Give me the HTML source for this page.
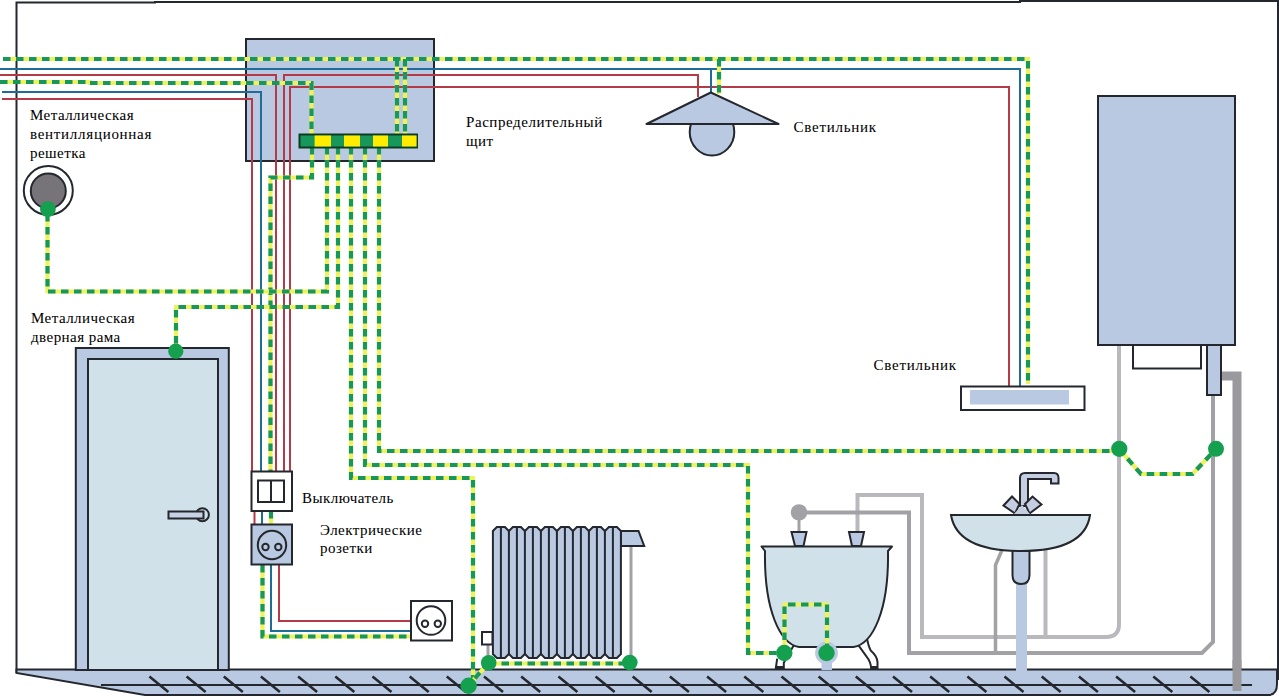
<!DOCTYPE html>
<html><head><meta charset="utf-8"><title>Grounding scheme</title>
<style>
html,body{margin:0;padding:0;background:#fff;overflow:hidden;width:1279px;height:697px;}
svg{display:block;}
text{font-family:"Liberation Serif",serif;font-size:15px;letter-spacing:0.45px;fill:#000;stroke:#000;stroke-width:0.05px;}
</style></head><body>
<svg width="1279" height="697" viewBox="0 0 1279 697">
<rect width="1279" height="697" fill="#fff"/>
<polyline points="16.5,673 16.5,2.5 155,2.5 155,2 1020,2 1020,1 1278,1 1278,680" fill="none" stroke="#24272d" stroke-width="2"/>
<path d="M1119,345 V624 Q1119,637 1106,637 H922 V495 H857.5 V532" fill="none" stroke="#b9b9bd" stroke-width="4"/>
<path d="M1045.5,548 V637" fill="none" stroke="#b9b9bd" stroke-width="4"/>
<path d="M1213,395 V642 L1202,653 H909 V512.5 H800" fill="none" stroke="#a2a2a6" stroke-width="4"/>
<path d="M1002,550 L995.5,565 V654" fill="none" stroke="#a2a2a6" stroke-width="3.5"/>
<path d="M1221,376 H1237 V691" fill="none" stroke="#9a9a9e" stroke-width="9"/>
<path d="M16.5,669.5 H1277 V684 Q1277,695 1268,695 H145 L16.5,673 Z" fill="#b9c9e1" stroke="#24272d" stroke-width="2"/>
<line x1="101" y1="685" x2="1252" y2="685" stroke="#24272d" stroke-width="2"/>
<line x1="149.4" y1="676.5" x2="168.4" y2="692" stroke="#24272d" stroke-width="2.5"/>
<line x1="186.6" y1="676.5" x2="205.6" y2="692" stroke="#24272d" stroke-width="2.5"/>
<line x1="223.8" y1="676.5" x2="242.8" y2="692" stroke="#24272d" stroke-width="2.5"/>
<line x1="260.9" y1="676.5" x2="279.9" y2="692" stroke="#24272d" stroke-width="2.5"/>
<line x1="298.1" y1="676.5" x2="317.1" y2="692" stroke="#24272d" stroke-width="2.5"/>
<line x1="335.3" y1="676.5" x2="354.3" y2="692" stroke="#24272d" stroke-width="2.5"/>
<line x1="372.5" y1="676.5" x2="391.5" y2="692" stroke="#24272d" stroke-width="2.5"/>
<line x1="409.7" y1="676.5" x2="428.7" y2="692" stroke="#24272d" stroke-width="2.5"/>
<line x1="446.8" y1="676.5" x2="465.8" y2="692" stroke="#24272d" stroke-width="2.5"/>
<line x1="484.0" y1="676.5" x2="503.0" y2="692" stroke="#24272d" stroke-width="2.5"/>
<line x1="521.2" y1="676.5" x2="540.2" y2="692" stroke="#24272d" stroke-width="2.5"/>
<line x1="558.4" y1="676.5" x2="577.4" y2="692" stroke="#24272d" stroke-width="2.5"/>
<line x1="595.6" y1="676.5" x2="614.6" y2="692" stroke="#24272d" stroke-width="2.5"/>
<line x1="632.7" y1="676.5" x2="651.7" y2="692" stroke="#24272d" stroke-width="2.5"/>
<line x1="669.9" y1="676.5" x2="688.9" y2="692" stroke="#24272d" stroke-width="2.5"/>
<line x1="707.1" y1="676.5" x2="726.1" y2="692" stroke="#24272d" stroke-width="2.5"/>
<line x1="744.3" y1="676.5" x2="763.3" y2="692" stroke="#24272d" stroke-width="2.5"/>
<line x1="781.5" y1="676.5" x2="800.5" y2="692" stroke="#24272d" stroke-width="2.5"/>
<line x1="818.6" y1="676.5" x2="837.6" y2="692" stroke="#24272d" stroke-width="2.5"/>
<line x1="855.8" y1="676.5" x2="874.8" y2="692" stroke="#24272d" stroke-width="2.5"/>
<line x1="893.0" y1="676.5" x2="912.0" y2="692" stroke="#24272d" stroke-width="2.5"/>
<line x1="930.2" y1="676.5" x2="949.2" y2="692" stroke="#24272d" stroke-width="2.5"/>
<line x1="967.4" y1="676.5" x2="986.4" y2="692" stroke="#24272d" stroke-width="2.5"/>
<line x1="1004.5" y1="676.5" x2="1023.5" y2="692" stroke="#24272d" stroke-width="2.5"/>
<line x1="1041.7" y1="676.5" x2="1060.7" y2="692" stroke="#24272d" stroke-width="2.5"/>
<line x1="1078.9" y1="676.5" x2="1097.9" y2="692" stroke="#24272d" stroke-width="2.5"/>
<line x1="1116.1" y1="676.5" x2="1135.1" y2="692" stroke="#24272d" stroke-width="2.5"/>
<line x1="1153.3" y1="676.5" x2="1172.3" y2="692" stroke="#24272d" stroke-width="2.5"/>
<line x1="1190.4" y1="676.5" x2="1209.4" y2="692" stroke="#24272d" stroke-width="2.5"/>
<path d="M1237,660 V691" fill="none" stroke="#9a9a9e" stroke-width="9"/>
<rect x="246" y="39" width="188" height="122" fill="#b9c9e1" stroke="#24272d" stroke-width="2"/>
<polyline points="0,69 1020,69 1020,386" fill="none" stroke="#1d6d98" stroke-width="2" stroke-linejoin="miter"/>
<polyline points="0,75 276,75 276,471" fill="none" stroke="#b33a46" stroke-width="2" stroke-linejoin="miter"/>
<polyline points="284,471 284,75 698,75 698,97" fill="none" stroke="#b33a46" stroke-width="2" stroke-linejoin="miter"/>
<polyline points="290,471 290,87 1009,87 1009,386" fill="none" stroke="#b33a46" stroke-width="2" stroke-linejoin="miter"/>
<polyline points="2,92 261,92 261,471" fill="none" stroke="#1d6d98" stroke-width="2" stroke-linejoin="miter"/>
<polyline points="2,99 252,99 252,471" fill="none" stroke="#b33a46" stroke-width="2" stroke-linejoin="miter"/>
<polyline points="711,69 711,92" fill="none" stroke="#1d6d98" stroke-width="2" stroke-linejoin="miter"/>
<polyline points="254.5,511 254.5,524" fill="none" stroke="#b33a46" stroke-width="2" stroke-linejoin="miter"/>
<polyline points="262,511 262,524" fill="none" stroke="#1d6d98" stroke-width="2" stroke-linejoin="miter"/>
<polyline points="279,565 279,621 411,621" fill="none" stroke="#b33a46" stroke-width="2" stroke-linejoin="miter"/>
<polyline points="271,565 271,631 411,631" fill="none" stroke="#1d6d98" stroke-width="2" stroke-linejoin="miter"/>
<polyline points="3,59 1028,59 1028,384" fill="none" stroke="#eef25c" stroke-width="4.2" stroke-linejoin="miter"/>
<polyline points="3,59 1028,59 1028,384" fill="none" stroke="#17985a" stroke-width="4.2" stroke-dasharray="7.5 5.5" stroke-dashoffset="0" stroke-linejoin="miter"/>
<polyline points="0,82 90,82 90,83 311.5,83 311.5,134" fill="none" stroke="#eef25c" stroke-width="4.2" stroke-linejoin="miter"/>
<polyline points="0,82 90,82 90,83 311.5,83 311.5,134" fill="none" stroke="#17985a" stroke-width="4.2" stroke-dasharray="7.5 5.5" stroke-dashoffset="0" stroke-linejoin="miter"/>
<polyline points="719,59 719,94" fill="none" stroke="#eef25c" stroke-width="4.2" stroke-linejoin="miter"/>
<polyline points="719,59 719,94" fill="none" stroke="#17985a" stroke-width="4.2" stroke-dasharray="7.5 5.5" stroke-dashoffset="0" stroke-linejoin="miter"/>
<polyline points="397,59 397,134" fill="none" stroke="#eef25c" stroke-width="4.2" stroke-linejoin="miter"/>
<polyline points="397,59 397,134" fill="none" stroke="#17985a" stroke-width="4.2" stroke-dasharray="7.5 5.5" stroke-dashoffset="0" stroke-linejoin="miter"/>
<polyline points="405,59 405,134" fill="none" stroke="#eef25c" stroke-width="4.2" stroke-linejoin="miter"/>
<polyline points="405,59 405,134" fill="none" stroke="#17985a" stroke-width="4.2" stroke-dasharray="7.5 5.5" stroke-dashoffset="0" stroke-linejoin="miter"/>
<polyline points="312,147 312,177.5 270.5,177.5 270.5,471" fill="none" stroke="#eef25c" stroke-width="4.2" stroke-linejoin="miter"/>
<polyline points="312,147 312,177.5 270.5,177.5 270.5,471" fill="none" stroke="#17985a" stroke-width="4.2" stroke-dasharray="7.5 5.5" stroke-dashoffset="0" stroke-linejoin="miter"/>
<polyline points="327,147 327,291.5 47.5,291.5 47.5,209" fill="none" stroke="#eef25c" stroke-width="4.2" stroke-linejoin="miter"/>
<polyline points="327,147 327,291.5 47.5,291.5 47.5,209" fill="none" stroke="#17985a" stroke-width="4.2" stroke-dasharray="7.5 5.5" stroke-dashoffset="0" stroke-linejoin="miter"/>
<polyline points="338,147 338,307 176,307 176,351" fill="none" stroke="#eef25c" stroke-width="4.2" stroke-linejoin="miter"/>
<polyline points="338,147 338,307 176,307 176,351" fill="none" stroke="#17985a" stroke-width="4.2" stroke-dasharray="7.5 5.5" stroke-dashoffset="0" stroke-linejoin="miter"/>
<polyline points="351,147 351,478 473,478 473,680" fill="none" stroke="#eef25c" stroke-width="4.2" stroke-linejoin="miter"/>
<polyline points="351,147 351,478 473,478 473,680" fill="none" stroke="#17985a" stroke-width="4.2" stroke-dasharray="7.5 5.5" stroke-dashoffset="0" stroke-linejoin="miter"/>
<polyline points="365,147 365,465 748,465 748,653 784,653" fill="none" stroke="#eef25c" stroke-width="4.2" stroke-linejoin="miter"/>
<polyline points="365,147 365,465 748,465 748,653 784,653" fill="none" stroke="#17985a" stroke-width="4.2" stroke-dasharray="7.5 5.5" stroke-dashoffset="0" stroke-linejoin="miter"/>
<polyline points="379,147 379,451 1119,451" fill="none" stroke="#eef25c" stroke-width="4.2" stroke-linejoin="miter"/>
<polyline points="379,147 379,451 1119,451" fill="none" stroke="#17985a" stroke-width="4.2" stroke-dasharray="7.5 5.5" stroke-dashoffset="0" stroke-linejoin="miter"/>
<polyline points="1119,449 1141,474 1192.5,474 1216,449" fill="none" stroke="#eef25c" stroke-width="4.2" stroke-linejoin="miter"/>
<polyline points="1119,449 1141,474 1192.5,474 1216,449" fill="none" stroke="#17985a" stroke-width="4.2" stroke-dasharray="7.5 5.5" stroke-dashoffset="0" stroke-linejoin="miter"/>
<polyline points="271,511 271,524" fill="none" stroke="#eef25c" stroke-width="4.2" stroke-linejoin="miter"/>
<polyline points="271,511 271,524" fill="none" stroke="#17985a" stroke-width="4.2" stroke-dasharray="7.5 5.5" stroke-dashoffset="0" stroke-linejoin="miter"/>
<polyline points="262.5,565 262.5,636.5 411,636.5" fill="none" stroke="#eef25c" stroke-width="4.2" stroke-linejoin="miter"/>
<polyline points="262.5,565 262.5,636.5 411,636.5" fill="none" stroke="#17985a" stroke-width="4.2" stroke-dasharray="7.5 5.5" stroke-dashoffset="0" stroke-linejoin="miter"/>
<polyline points="488.5,663.5 630,663.5" fill="none" stroke="#eef25c" stroke-width="4.2" stroke-linejoin="miter"/>
<polyline points="488.5,663.5 630,663.5" fill="none" stroke="#17985a" stroke-width="4.2" stroke-dasharray="7.5 5.5" stroke-dashoffset="0" stroke-linejoin="miter"/>
<polyline points="488.5,663 468.5,685.5" fill="none" stroke="#eef25c" stroke-width="4.2" stroke-linejoin="miter"/>
<polyline points="488.5,663 468.5,685.5" fill="none" stroke="#17985a" stroke-width="4.2" stroke-dasharray="7.5 5.5" stroke-dashoffset="0" stroke-linejoin="miter"/>
<rect x="299.5" y="134.5" width="117.5" height="13" fill="#17985a" stroke="#0f3a22" stroke-width="2"/>
<rect x="314.6" y="135.5" width="16.4" height="11" fill="#ffec00"/>
<rect x="344" y="135.5" width="16.0" height="11" fill="#ffec00"/>
<rect x="373" y="135.5" width="15.0" height="11" fill="#ffec00"/>
<rect x="402" y="135.5" width="14.6" height="11" fill="#ffec00"/>
<ellipse cx="712" cy="132" rx="22.3" ry="23.5" fill="#b9c9e1" stroke="#24272d" stroke-width="2"/>
<polygon points="710.8,92.5 778.5,124 646.5,124" fill="#b9c9e1" stroke="#24272d" stroke-width="2" stroke-linejoin="round"/>
<rect x="961" y="386.5" width="123.5" height="23.5" fill="#fff" stroke="#24272d" stroke-width="2"/>
<rect x="970" y="390" width="99" height="14.5" fill="#b9c9e1"/>
<rect x="1098" y="96" width="137" height="249" fill="#b9c9e1" stroke="#24272d" stroke-width="2"/>
<rect x="1133" y="345" width="68" height="23.5" fill="#fff" stroke="#24272d" stroke-width="2"/>
<rect x="1207" y="345" width="14" height="50" fill="#b9c9e1" stroke="#24272d" stroke-width="2"/>
<circle cx="48.3" cy="190.5" r="24.5" fill="#fff" stroke="#24272d" stroke-width="2"/>
<circle cx="48.3" cy="191" r="17.5" fill="#767478" stroke="#24272d" stroke-width="2"/>
<rect x="75.8" y="348" width="153" height="322" fill="#b9c9e1" stroke="#24272d" stroke-width="2"/>
<rect x="88" y="359" width="130" height="311" fill="#d1e1e9" stroke="#24272d" stroke-width="2"/>
<circle cx="202.4" cy="514.7" r="6.5" fill="#d1e1e9" stroke="#24272d" stroke-width="2"/>
<rect x="168.5" y="511.5" width="35" height="7" fill="#c8d2e4" stroke="#24272d" stroke-width="2"/>
<rect x="251.5" y="471.5" width="40.5" height="39.5" fill="#fff" stroke="#24272d" stroke-width="2"/>
<rect x="258" y="480.5" width="26" height="21.5" fill="#fff" stroke="#24272d" stroke-width="2"/>
<line x1="271" y1="480.5" x2="271" y2="502" stroke="#24272d" stroke-width="2"/>
<rect x="251.5" y="524.5" width="40.5" height="40" fill="#b9c9e1" stroke="#24272d" stroke-width="2"/>
<circle cx="272" cy="545" r="14.2" fill="#b9c9e1" stroke="#24272d" stroke-width="2"/>
<circle cx="265.5" cy="547" r="3.2" fill="none" stroke="#24272d" stroke-width="2"/>
<circle cx="278.3" cy="547" r="3.2" fill="none" stroke="#24272d" stroke-width="2"/>
<rect x="411" y="601" width="41" height="39.5" fill="#fff" stroke="#24272d" stroke-width="2"/>
<circle cx="431" cy="620.5" r="14.3" fill="#fff" stroke="#24272d" stroke-width="2"/>
<circle cx="425" cy="623.7" r="3.2" fill="none" stroke="#24272d" stroke-width="2"/>
<circle cx="437.8" cy="623.7" r="3.2" fill="none" stroke="#24272d" stroke-width="2"/>
<path d="M631,546 V658" stroke="#a2a2a6" stroke-width="3" fill="none"/>
<path d="M488,644 V656" stroke="#a2a2a6" stroke-width="3" fill="none"/>
<rect x="482" y="632" width="10.5" height="12.5" fill="#fff" stroke="#24272d" stroke-width="2"/>
<polygon points="492.9,654 492.9,531 496.9,527 504.9,527 508.9,531 512.9,527 520.9,527 524.9,531 528.9,527 536.9,527 540.9,531 544.9,527 552.9,527 556.9,531 560.9,527 568.9,527 572.9,531 576.9,527 584.9,527 588.9,531 592.9,527 600.9,527 604.9,531 608.9,527 616.9,527 620.9,531 620.9,654 616.9,658 608.9,658 604.9,654 600.9,658 592.9,658 588.9,654 584.9,658 576.9,658 572.9,654 568.9,658 560.9,658 556.9,654 552.9,658 544.9,658 540.9,654 536.9,658 528.9,658 524.9,654 520.9,658 512.9,658 508.9,654 504.9,658 496.9,658 492.9,654" fill="#b9c9e1" stroke="#24272d" stroke-width="2" stroke-linejoin="miter"/>
<line x1="500.9" y1="527" x2="500.9" y2="658" stroke="#24272d" stroke-width="2"/>
<line x1="516.9" y1="527" x2="516.9" y2="658" stroke="#24272d" stroke-width="2"/>
<line x1="508.9" y1="531" x2="508.9" y2="654" stroke="#24272d" stroke-width="2"/>
<line x1="532.9" y1="527" x2="532.9" y2="658" stroke="#24272d" stroke-width="2"/>
<line x1="524.9" y1="531" x2="524.9" y2="654" stroke="#24272d" stroke-width="2"/>
<line x1="548.9" y1="527" x2="548.9" y2="658" stroke="#24272d" stroke-width="2"/>
<line x1="540.9" y1="531" x2="540.9" y2="654" stroke="#24272d" stroke-width="2"/>
<line x1="564.9" y1="527" x2="564.9" y2="658" stroke="#24272d" stroke-width="2"/>
<line x1="556.9" y1="531" x2="556.9" y2="654" stroke="#24272d" stroke-width="2"/>
<line x1="580.9" y1="527" x2="580.9" y2="658" stroke="#24272d" stroke-width="2"/>
<line x1="572.9" y1="531" x2="572.9" y2="654" stroke="#24272d" stroke-width="2"/>
<line x1="596.9" y1="527" x2="596.9" y2="658" stroke="#24272d" stroke-width="2"/>
<line x1="588.9" y1="531" x2="588.9" y2="654" stroke="#24272d" stroke-width="2"/>
<line x1="612.9" y1="527" x2="612.9" y2="658" stroke="#24272d" stroke-width="2"/>
<line x1="604.9" y1="531" x2="604.9" y2="654" stroke="#24272d" stroke-width="2"/>
<polygon points="621,531 638.5,531 644.2,546 621,546" fill="#b9c9e1" stroke="#24272d" stroke-width="2"/>
<path d="M799,512 V533" stroke="#a2a2a6" stroke-width="3" fill="none"/>
<circle cx="799" cy="512.4" r="8.2" fill="#a2a2a6"/>
<path d="M794.5,644 L783.8,662.7 V669 M777.2,658.6 L775.7,669" fill="none" stroke="#24272d" stroke-width="2"/>
<path d="M866.6,636.3 Q868,645 870.7,650.5 Q877,656 877.5,662 V669 M858.5,645.4 L866.6,656.6 Q871,662 871.2,669" fill="none" stroke="#24272d" stroke-width="2"/>
<rect x="776" y="666" width="8" height="3" fill="#24272d"/>
<rect x="871" y="666" width="7" height="3" fill="#24272d"/>
<path d="M761.5,546.5 H892 L888,551 C889,610 873,644 853.5,647 H799 C780,644 764,610 765,551 Z" fill="#d1e1e9" stroke="#24272d" stroke-width="2" stroke-linejoin="round"/>
<polygon points="791.5,532 806.5,532 803.5,546 795,546" fill="#b9c9e1" stroke="#24272d" stroke-width="2"/>
<polygon points="849,532 864,532 861,546 852,546" fill="#b9c9e1" stroke="#24272d" stroke-width="2"/>
<rect x="821.5" y="655" width="10.5" height="15" fill="#b9c9e1"/>
<circle cx="826.5" cy="653" r="11.4" fill="#b9c9e1"/>
<polyline points="784.5,653 784.5,604.5 827,604.5 827,653" fill="none" stroke="#eef25c" stroke-width="4.2" stroke-linejoin="miter"/>
<polyline points="784.5,653 784.5,604.5 827,604.5 827,653" fill="none" stroke="#17985a" stroke-width="4.2" stroke-dasharray="7.5 5.5" stroke-dashoffset="0" stroke-linejoin="miter"/>
<path d="M1021.5,580 V672" stroke="#b9c9e1" stroke-width="11" fill="none"/>
<path d="M1012.5,548 V575 Q1012.5,584 1021,584 Q1029.5,584 1029.5,575 V548 Z" fill="#b9c9e1" stroke="#24272d" stroke-width="2"/>
<path d="M951,515 H1090 Q1085,551 1021,551 Q957,551 951,515 Z" fill="#d1e1e9" stroke="#24272d" stroke-width="2"/>
<path d="M1020,506 V478 Q1020,473 1025,473 H1054 Q1058.5,473 1058.5,478 V483.5 H1051 V479 H1028 V506 Z" fill="#c4cee0" stroke="#24272d" stroke-width="2"/>
<polygon points="1003.5,505.5 1012,496.5 1019.5,504 1015,513.5" fill="#c4cee0" stroke="#24272d" stroke-width="2"/>
<polygon points="1041.5,504.5 1032.5,496.5 1025,504 1029.5,513.5" fill="#c4cee0" stroke="#24272d" stroke-width="2"/>
<polygon points="1014,514 1022,505 1030,514" fill="#c4cee0"/>
<circle cx="47.9" cy="209.1" r="7.9" fill="#14a04f"/>
<circle cx="175.8" cy="351.2" r="7.6" fill="#14a04f"/>
<circle cx="468.6" cy="685.8" r="8.2" fill="#14a04f"/>
<circle cx="488.7" cy="662.7" r="7.8" fill="#14a04f"/>
<circle cx="629.8" cy="662.5" r="7.8" fill="#14a04f"/>
<circle cx="784.3" cy="653" r="8.2" fill="#14a04f"/>
<circle cx="826.5" cy="653" r="8.2" fill="#14a04f"/>
<circle cx="1119.3" cy="448.8" r="8.1" fill="#14a04f"/>
<circle cx="1216" cy="448.8" r="8" fill="#14a04f"/>
<text x="30" y="119.9">Металлическая</text>
<text x="30" y="138.9" style="letter-spacing:0.72px">вентилляционная</text>
<text x="30" y="157.5">решетка</text>
<text x="466" y="126.9" style="letter-spacing:0.57px">Распределительный</text>
<text x="466" y="145.6">щит</text>
<text x="793.5" y="131.8" style="letter-spacing:0.75px">Светильник</text>
<text x="873.5" y="370" style="letter-spacing:0.75px">Светильник</text>
<text x="31" y="322.9">Металлическая</text>
<text x="31" y="342">дверная рама</text>
<text x="302" y="502.5">Выключатель</text>
<text x="320" y="534.8">Электрические</text>
<text x="320" y="553">розетки</text>
</svg>
</body></html>
